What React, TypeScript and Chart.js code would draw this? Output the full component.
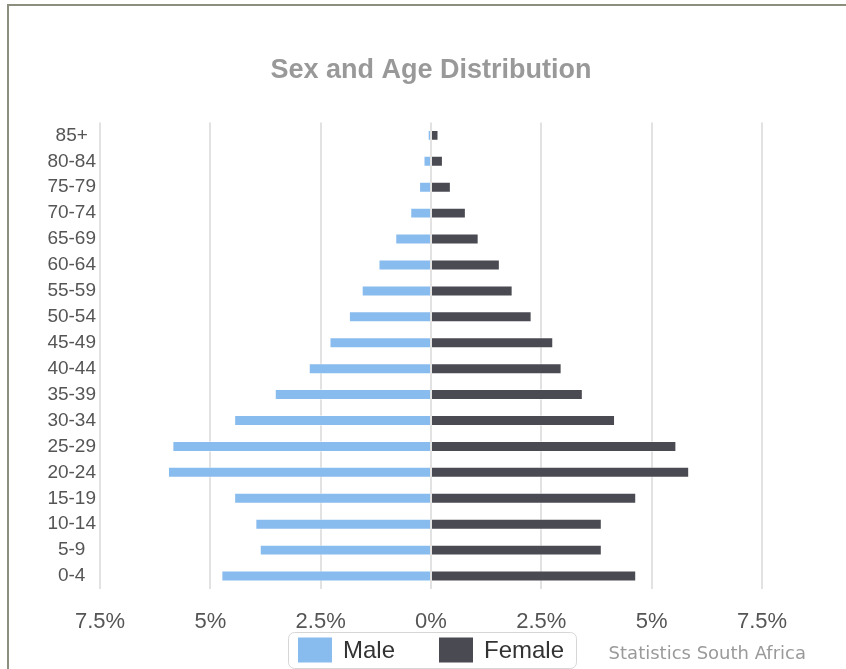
import { useEffect, useRef } from 'react';
import { Chart, registerables } from 'chart.js';

Chart.register(...registerables);

const ageGroups = ['85+', '80-84', '75-79', '70-74', '65-69', '60-64', '55-59', '50-54', '45-49', '40-44', '35-39', '30-34', '25-29', '20-24', '15-19', '10-14', '5-9', '0-4'];
const maleValues = [0.075, 0.17, 0.27, 0.47, 0.81, 1.19, 1.57, 1.86, 2.3, 2.77, 3.54, 4.46, 5.86, 5.96, 4.46, 3.98, 3.88, 4.75];
const femaleValues = [0.17, 0.27, 0.45, 0.79, 1.08, 1.56, 1.85, 2.28, 2.77, 2.96, 3.44, 4.17, 5.56, 5.85, 4.65, 3.87, 3.87, 4.65];
const xTickValues = [-7.5, -5, -2.5, 0, 2.5, 5, 7.5];
const seriesNames = ['Male', 'Female'];
const seriesColors = ['#88bbee', '#4a4a52'];
const titleText = 'Sex and Age Distribution';
const creditText = 'Statistics South Africa';

const CANVAS_W = 837;
const CANVAS_H = 663;

const boxLegendPlugin = {
  id: 'boxLegend',
  afterDraw(chart: any) {
    const { ctx, chartArea } = chart;
    const cx = (chartArea.left + chartArea.right) / 2;
    ctx.save();
    ctx.font = '24px "Liberation Sans", Arial, sans-serif';
    const sw = 34;
    const sh = 25;
    const gapText = 11;
    const gapItem = 44;
    const padL = 10;
    const padR = 12;
    const widths = seriesNames.map((n) => ctx.measureText(n).width);
    const total = sw + gapText + widths[0] + gapItem + sw + gapText + widths[1];
    const startX = cx - total / 2;
    const boxTop = chart.height - 37;
    const cy = boxTop + 18;
    ctx.beginPath();
    ctx.lineWidth = 1;
    ctx.strokeStyle = '#d6d6d6';
    (ctx as any).roundRect(Math.round(startX - padL) + 0.5, boxTop + 0.5, Math.round(total + padL + padR), 36, 6);
    ctx.stroke();
    let x = startX;
    seriesNames.forEach((name, i) => {
      ctx.fillStyle = seriesColors[i];
      ctx.fillRect(x, cy - sh / 2, sw, sh);
      ctx.fillStyle = '#333333';
      ctx.textAlign = 'left';
      ctx.textBaseline = 'middle';
      ctx.fillText(name, x + sw + gapText, cy + 1);
      x += sw + gapText + widths[i] + gapItem;
    });
    ctx.font = '18px "DejaVu Sans", sans-serif';
    ctx.fillStyle = '#9a9a9a';
    ctx.textAlign = 'right';
    ctx.textBaseline = 'middle';
    ctx.fillText(creditText, 797, cy + 4);
    ctx.restore();
  },
};

export default function App() {
  const canvasRef = useRef<HTMLCanvasElement | null>(null);

  useEffect(() => {
    if (!canvasRef.current) return;
    const chart = new Chart(canvasRef.current, {
      type: 'bar',
      data: {
        labels: ageGroups,
        datasets: [
          {
            label: seriesNames[0],
            data: maleValues.map((v) => -v),
            backgroundColor: seriesColors[0],
            borderColor: 'rgba(255,255,255,0.45)',
            borderWidth: 1,
            barPercentage: 0.9,
            categoryPercentage: 0.47,
          },
          {
            label: seriesNames[1],
            data: femaleValues,
            backgroundColor: seriesColors[1],
            borderColor: 'rgba(255,255,255,0.45)',
            borderWidth: 1,
            barPercentage: 0.9,
            categoryPercentage: 0.47,
          },
        ],
      },
      plugins: [boxLegendPlugin],
      options: {
        indexAxis: 'y',
        responsive: false,
        animation: false,
        layout: { padding: { left: 31, right: 84, top: 0, bottom: 40 } },
        plugins: {
          legend: { display: false },
          tooltip: { enabled: false },
          title: {
            display: true,
            text: titleText,
            fullSize: false,
            color: '#999999',
            font: { family: '"Liberation Sans", Arial, sans-serif', size: 27, weight: 'bold', lineHeight: 1.2 },
            padding: { top: 48, bottom: 36 },
          },
        },
        scales: {
          x: {
            stacked: true,
            min: -7.5,
            max: 7.5,
            afterBuildTicks: (scale: any) => {
              scale.ticks = xTickValues.map((v) => ({ value: v }));
            },
            afterFit: (scale: any) => {
              scale.height = 40;
            },
            grid: { color: '#e2e2e2', lineWidth: 2, drawTicks: false },
            border: { display: false },
            ticks: {
              color: '#555555',
              padding: 20,
              font: { family: '"Liberation Sans", Arial, sans-serif', size: 22 },
              callback: (value: any) => `${Math.abs(Number(value))}%`,
            },
          },
          y: {
            stacked: true,
            afterFit: (scale: any) => {
              scale.width = 60;
            },
            grid: { display: false, drawTicks: false },
            border: { display: false },
            ticks: {
              color: '#555555',
              padding: 4,
              crossAlign: 'center',
              font: { family: '"Liberation Sans", Arial, sans-serif', size: 19 },
            },
          },
        },
      },
    } as any);
    return () => chart.destroy();
  }, []);

  return (
    <div style={{ position: 'fixed', left: 0, top: 0, width: 846, height: 669, background: '#ffffff', overflow: 'hidden' }}>
      <div
        style={{
          position: 'absolute',
          left: 7,
          top: 4,
          right: -10,
          bottom: -10,
          borderLeft: '2px solid #8b8f7d',
          borderTop: '2px solid #8b8f7d',
        }}
      />
      <canvas
        ref={canvasRef}
        width={CANVAS_W}
        height={CANVAS_H}
        style={{ position: 'absolute', left: 9, top: 6, width: CANVAS_W, height: CANVAS_H }}
      />
    </div>
  );
}
